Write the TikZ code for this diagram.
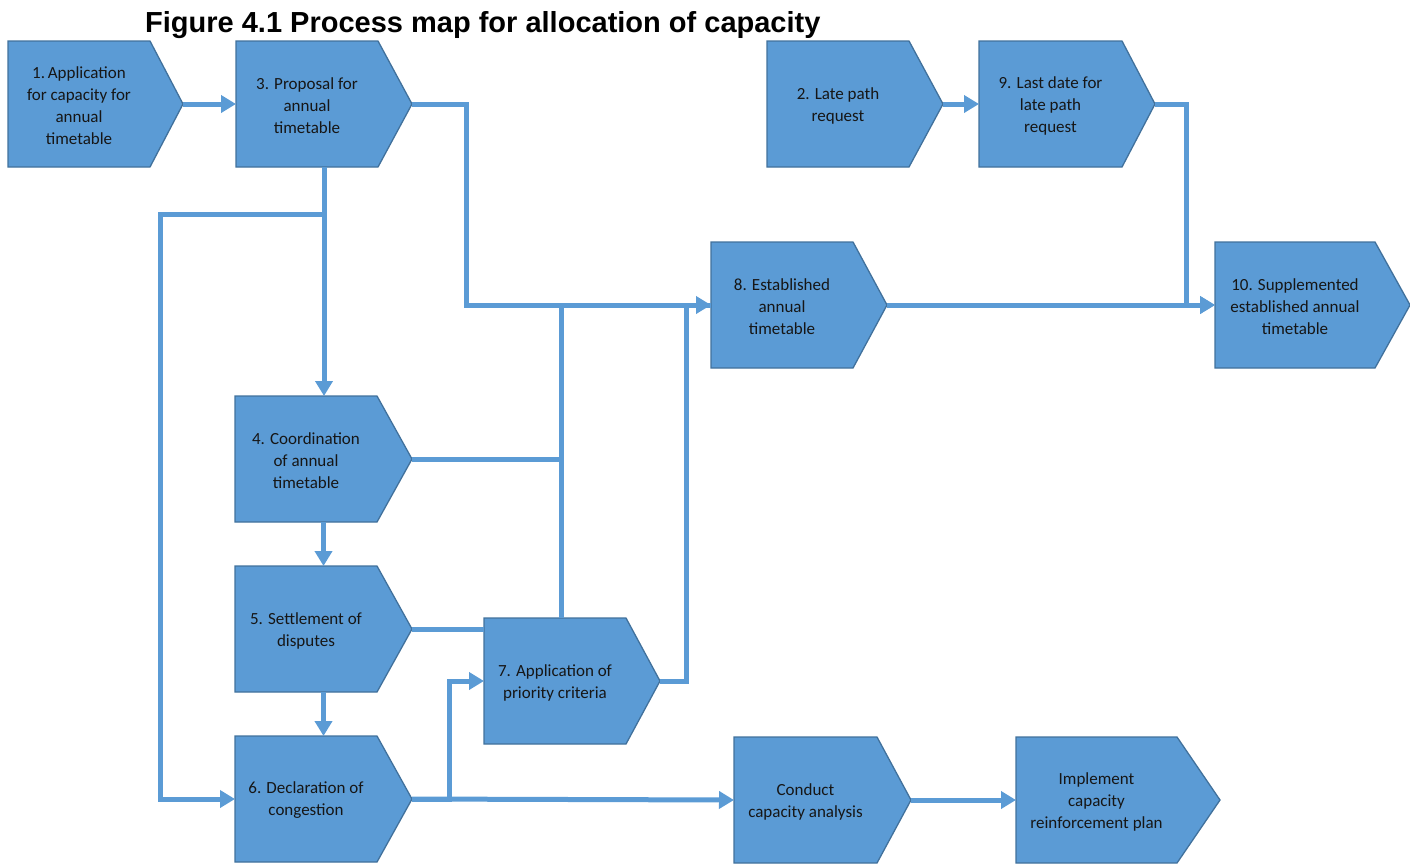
\documentclass[tikz,border=0pt]{standalone}
\usepackage{fontspec}
\setmainfont{Carlito}
\newfontfamily\titlefont{Liberation Sans}
\usetikzlibrary{arrows.meta,calc}

\definecolor{stepblue}{HTML}{5B9BD5}
\definecolor{stepedge}{HTML}{41719C}
\definecolor{flowblue}{HTML}{5B9BD5}
\definecolor{inkdark}{HTML}{161616}

\tikzset{
  stepframe/.style={rectangle, draw=none, inner sep=0pt, outer sep=0pt, minimum height=126pt},
  stepfill/.style={fill=stepblue, draw=stepedge, line width=1.3pt, line join=miter},
  steptext/.style={align=center, text=inkdark, inner sep=0pt, yshift=-1.5pt,
                   font=\fontsize{17}{22}\selectfont},
  flow/.style={draw=flowblue, line width=5pt},
  flowarrow/.style={flow, -{Triangle[length=15pt,width=17pt]}},
  titletext/.style={anchor=base west, inner sep=0pt,
                    font=\titlefont\bfseries\fontsize{29}{34}\selectfont},
}

% \procstep{name}{left x}{top y}{body width}{point length}{text}
\newcommand\procstep[6]{%
  \node[stepframe, minimum width=#4+#5, anchor=north west] (#1) at (#2,#3) {};
  \filldraw[stepfill] (#1.north west) -- ++(#4,0) -- (#1.east)
      -- ($(#1.south west)+(#4,0)$) -- (#1.south west) -- cycle;
  \node[steptext] (#1-text) at ($(#1.west)+(#4/2,0)$) {#6};
}

\begin{document}
\begin{tikzpicture}[x=1pt, y=-1pt]
  \useasboundingbox (0,0) rectangle (1410,863);

  \node[titletext] (title) at (145,32) {Figure 4.1 Process map for allocation of capacity};

  % process steps
  \procstep{s1}{8}{41}{142}{33}{1.\,Application\\for capacity for\\annual\\timetable}
  \procstep{s3}{236}{41}{142}{34}{3. Proposal for\\annual\\timetable}
  \procstep{s2}{767}{41}{142}{34}{2. Late path\\request}
  \procstep{s9}{979}{41}{143}{33}{9. Last date for\\late path\\request}
  \procstep{s8}{711}{242}{142}{34}{8. Established\\annual\\timetable}
  \procstep{s10}{1215}{242}{160}{35}{10. Supplemented\\established annual\\timetable}
  \procstep{s4}{235}{396}{142}{35}{4. Coordination\\of annual\\timetable}
  \procstep{s5}{235}{566}{142}{35}{5. Settlement of\\disputes}
  \procstep{s7}{484}{618}{142}{34}{7. Application of\\priority criteria}
  \procstep{s6}{235}{736}{142}{35}{6. Declaration of\\congestion}
  \procstep{sc}{734}{737}{143}{34}{Conduct\\capacity analysis}
  \procstep{si}{1016}{737}{161}{43}{Implement\\capacity\\reinforcement plan}

  % junction points on the connectors
  \coordinate (split3) at ($(s3.south)+(0,47.5)$);
  \coordinate (j7) at ($(s7.north west)+(77.5,0)$);

  % connectors
  \draw[flowarrow] (s1.east) -- (s3.west);
  \draw[flowarrow] (s3.east) -- ++(54,0) |- (s8.west);
  \draw[flowarrow] (s3.south) -- (s3.south |- s4.north);
  \draw[flowarrow] (split3) -- ++(-163.5,0) |- (s6.west);
  \draw[flow] (s4.east) -- (s4.east -| j7);
  \draw[flow] (j7) -- (j7 |- s8.west);
  \draw[flow] (s5.east) -- (s5.east -| s7.west);
  \draw[flowarrow] (s4.south) -- (s5.north);
  \draw[flowarrow] (s5.south) -- (s6.north);
  \draw[flowarrow] (s6.east) -- ++(37,0) |- (s7.west);
  \draw[flowarrow] (s6.east) -- (sc.west);
  \draw[flow] (s7.east) -- ++(26,0) |- (s8.west);
  \draw[flowarrow] (sc.east) -- (si.west);
  \draw[flowarrow] (s2.east) -- (s9.west);
  \draw[flowarrow] (s9.east) -- ++(31,0) |- (s10.west);
  \draw[flowarrow] (s8.east) -- (s10.west);
\end{tikzpicture}
\end{document}
